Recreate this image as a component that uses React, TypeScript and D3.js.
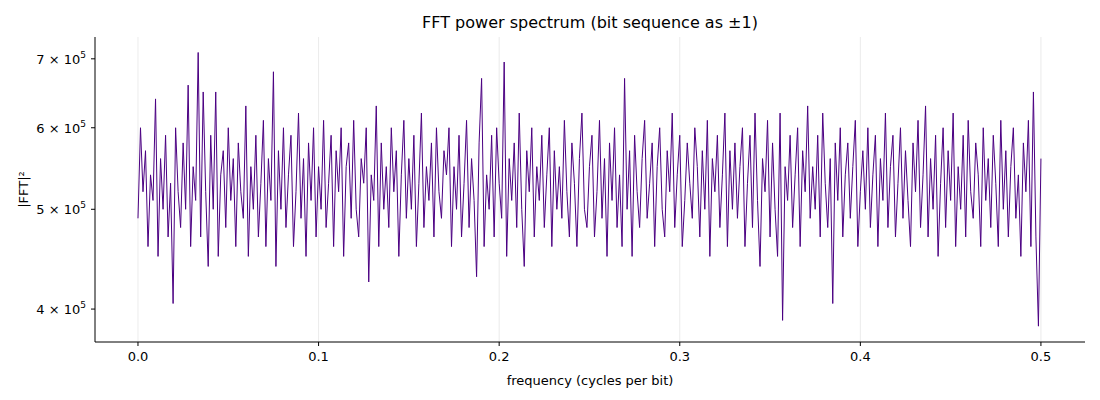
import { useEffect, useRef } from 'react';
import * as d3 from 'd3';

// |FFT|^2 values in units of 1e5, evenly spaced from f=0 to f=0.5
const powerE5: number[] = [
    4.9, 6.0, 5.2, 5.7, 4.6, 5.4, 5.1, 6.4, 4.5, 5.6, 5.0, 5.9, 4.7, 5.3, 4.05, 6.0, 5.2, 4.8, 5.8, 5.0,
    6.6, 4.6, 5.5, 5.1, 7.1, 4.7, 6.5, 5.2, 4.4, 5.9, 5.0, 6.5, 4.5, 5.4, 5.7, 4.8, 6.0, 5.1, 5.6, 4.6,
    5.8, 5.2, 4.9, 6.3, 4.5, 5.5, 5.0, 5.9, 4.7, 5.3, 6.1, 4.6, 5.6, 5.1, 6.8, 4.4, 5.7, 5.0, 6.0, 4.8,
    5.4, 5.9, 4.6, 5.2, 6.2, 4.9, 5.6, 4.5, 5.8, 5.1, 6.0, 4.7, 5.5, 5.0, 6.1, 4.8, 5.3, 5.9, 4.6, 5.7,
    5.2, 6.0, 4.5, 5.5, 5.8, 4.9, 6.1, 5.0, 4.7, 5.6, 5.3, 6.0, 4.25, 5.4, 5.1, 6.3, 4.6, 5.8, 5.0, 5.5,
    4.8, 6.0, 5.2, 5.7, 4.5, 5.4, 6.1, 4.9, 5.6, 5.0, 5.9, 4.6, 5.3, 6.2, 4.8, 5.5, 5.1, 5.8, 4.7, 6.0,
    5.2, 4.9, 5.7, 5.4, 6.0, 4.6, 5.5, 5.0, 5.9, 4.7, 5.3, 6.1, 4.8, 5.6, 5.1, 4.3, 5.8, 6.7, 4.6, 5.4,
    5.0, 5.9, 4.7, 6.0, 5.3, 4.9, 6.95, 4.5, 5.6, 5.1, 5.8, 4.8, 6.2, 5.0, 4.4, 5.7, 5.2, 6.0, 4.7, 5.5,
    5.1, 5.9, 4.8, 5.4, 6.0, 4.6, 5.7, 5.0, 5.5, 4.9, 6.1, 5.2, 4.7, 5.8, 5.3, 4.6, 5.6, 6.2, 5.0, 4.8,
    5.5, 5.9, 4.7, 5.2, 6.1, 4.9, 5.6, 4.5, 5.8, 5.1, 6.0, 4.8, 5.4, 4.6, 6.7, 5.0, 5.7, 4.5, 5.9, 5.2,
    4.8, 5.6, 6.1, 4.9, 5.3, 5.8, 4.6, 5.5, 6.0, 5.0, 4.7, 5.7, 5.2, 6.2, 4.8, 5.4, 5.9, 4.6, 5.1, 5.8,
    5.3, 4.9, 6.0, 5.5, 4.7, 5.7, 5.0, 6.1, 4.5, 5.6, 5.2, 5.9, 4.8, 5.4, 6.2, 4.6, 5.7, 5.0, 5.8, 4.9,
    5.5, 6.0, 4.6, 5.3, 5.9, 4.8, 6.2, 5.1, 4.4, 5.6, 5.2, 6.1, 4.7, 5.8, 5.0, 4.5, 6.2, 3.9, 5.5, 5.1,
    5.9, 4.8, 5.4, 6.0, 4.6, 5.7, 5.2, 6.3, 4.9, 5.5, 5.0, 5.9, 4.7, 6.2, 5.3, 4.8, 5.6, 4.05, 5.8, 5.1,
    6.0, 4.7, 5.4, 5.8, 4.9, 5.5, 6.1, 4.6, 5.2, 5.7, 5.0, 6.0, 4.8, 5.4, 5.9, 4.6, 5.6, 5.1, 6.2, 4.8,
    5.5, 5.9, 4.7, 5.3, 6.0, 4.9, 5.7, 5.1, 4.6, 5.8, 5.2, 6.1, 4.8, 5.4, 6.3, 4.7, 5.6, 5.0, 5.9, 4.5,
    5.3, 6.0, 4.8, 5.7, 5.1, 6.2, 4.6, 5.5, 5.0, 5.9, 4.7, 6.1, 5.2, 4.9, 5.8, 5.4, 4.6, 6.0, 5.1, 5.6,
    4.8, 5.9, 5.3, 4.6, 6.1, 5.0, 5.7, 4.7, 5.5, 6.0, 4.9, 5.4, 4.5, 5.8, 5.2, 6.1, 4.6, 6.5, 4.7, 3.85,
    5.6,
];
const xTicks = [0, 0.1, 0.2, 0.3, 0.4, 0.5];
const yTicks = [4, 5, 6, 7];

export default function App() {
    const svgRef = useRef<SVGSVGElement>(null);

    useEffect(() => {
        if (!svgRef.current) return;
        const svg = d3.select(svgRef.current);
        svg.selectAll('*').remove();
        const margin = { top: 29, right: 15, bottom: 58, left: 87 };
        const W = 1092, H = 392;
        const iw = W - margin.left - margin.right;
        const ih = H - margin.top - margin.bottom;
        const font = 'DejaVu Sans, sans-serif';

        const n = powerE5.length;
        const data = powerE5.map((v, i) => [i * 0.5 / (n - 1), v * 1e5] as [number, number]);

        const x = d3.scaleLinear().domain([-0.0238, 0.5244]).range([0, iw]);
        const y = d3.scaleLog().domain([3.716e5, 7.35e5]).range([ih, 0]);

        const g = svg.append('g').attr('transform', `translate(${margin.left},${margin.top})`);

        g.selectAll('line.grid').data(xTicks).enter().append('line')
            .attr('x1', d => x(d)).attr('x2', d => x(d))
            .attr('y1', 0).attr('y2', ih)
            .attr('stroke', '#e6e6e6').attr('stroke-width', 0.8);

        g.append('path')
            .datum(data)
            .attr('d', d3.line<[number, number]>().x(d => x(d[0])).y(d => y(d[1])))
            .attr('fill', 'none')
            .attr('stroke', '#4b0082')
            .attr('stroke-width', 1);

        // axes
        g.append('line').attr('x1', 0).attr('x2', 0).attr('y1', 0).attr('y2', ih).attr('stroke', '#000');
        g.append('line').attr('x1', 0).attr('x2', iw).attr('y1', ih).attr('y2', ih).attr('stroke', '#000');

        xTicks.forEach(t => {
            g.append('line').attr('x1', x(t)).attr('x2', x(t)).attr('y1', ih).attr('y2', ih + 4).attr('stroke', '#000');
            g.append('text').attr('x', x(t)).attr('y', ih + 19).attr('text-anchor', 'middle')
                .attr('font-family', font).attr('font-size', 13).text(t.toFixed(1));
        });

        yTicks.forEach(t => {
            const yy = y(t * 1e5);
            g.append('line').attr('x1', -4).attr('x2', 0).attr('y1', yy).attr('y2', yy).attr('stroke', '#000');
            const txt = g.append('text').attr('x', -9).attr('y', yy + 5).attr('text-anchor', 'end')
                .attr('font-family', font).attr('font-size', 13);
            txt.append('tspan').text(`${t} × 10`);
            txt.append('tspan').attr('dy', -6).attr('font-size', 9).text('5');
        });

        svg.append('text').attr('x', margin.left + iw / 2).attr('y', H - 15).attr('text-anchor', 'middle')
            .attr('font-family', font).attr('font-size', 13).text('frequency (cycles per bit)');
        svg.append('text').attr('transform', `translate(20,${margin.top + ih / 2}) rotate(-90)`)
            .attr('text-anchor', 'middle').attr('font-family', font).attr('font-size', 13).text('|FFT|²');
        svg.append('text').attr('x', margin.left + iw / 2).attr('y', 20).attr('text-anchor', 'middle')
            .attr('font-family', font).attr('font-size', 16).text('FFT power spectrum (bit sequence as ±1)');
    }, []);

    return <svg ref={svgRef} width={1092} height={392} style={{ display: 'block' }} />;
}
